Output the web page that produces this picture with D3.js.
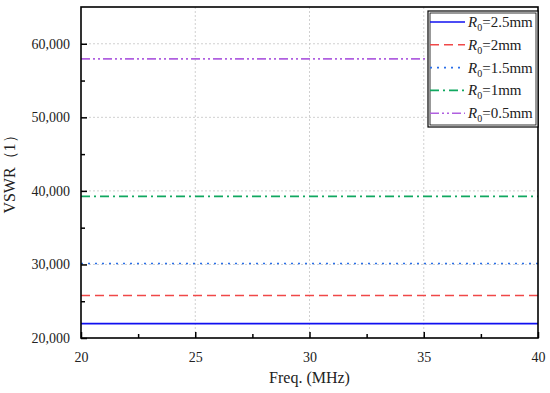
<!DOCTYPE html>
<html>
<head>
<meta charset="utf-8">
<script src="https://d3js.org/d3.v7.min.js"></script>
<style>
	body { margin: 0; background: #fff; }
	text { font-family: "Liberation Serif", "Times New Roman", serif; fill: #222; }
</style>
</head>
<body>
<div id="chart"></div>
<script>
(function() {
	var width = 550,
		height = 393;
	var margin = { top: 7, right: 12, bottom: 55, left: 81 };
	var w = width - margin.left - margin.right,
		h = height - margin.top - margin.bottom;

	// frequency points and VSWR values for each radius
	var freqs = [20, 25, 30, 35, 40];
	var labels = ["2.5mm", "2mm", "1.5mm", "1mm", "0.5mm"];
	var vswr25 = [21950, 21950, 21950, 21950, 21950];
	var vswr2 = [25780, 25780, 25780, 25780, 25780];
	var vswr15 = [30120, 30120, 30120, 30120, 30120];
	var vswr1 = [39250, 39250, 39250, 39250, 39250];
	var vswr05 = [57950, 57950, 57950, 57950, 57950];
	var xTicks = [20, 25, 30, 35, 40];
	var yTicks = [20000, 30000, 40000, 50000, 60000];

	var seriesValues = [vswr25, vswr2, vswr15, vswr1, vswr05];
	var colors = ["#1010f0", "#f04848", "#2b6fe8", "#10a860", "#b060e0"];
	var dashes = [null, "9,5", "2,5", "9,4,2,4", "9,3,2,3,2,3"];

	var svg = d3.select("#chart")
		.append("svg")
		.attr("width", width)
		.attr("height", height)
		.append("g")
		.attr("transform", "translate(" + margin.left + "," + margin.top + ")");

	var x = d3.scaleLinear().domain([20, 40]).range([0, w]);
	var y = d3.scaleLinear().domain([20000, 65000]).range([h, 0]);

	// dotted grid
	svg.selectAll(".gx").data(xTicks.slice(1, -1)).enter().append("line")
		.attr("x1", d => x(d)).attr("x2", d => x(d))
		.attr("y1", 0).attr("y2", h)
		.attr("stroke", "#d0d0d0").attr("stroke-dasharray", "2,2");
	svg.selectAll(".gy").data(yTicks.slice(1)).enter().append("line")
		.attr("y1", d => y(d)).attr("y2", d => y(d))
		.attr("x1", 0).attr("x2", w)
		.attr("stroke", "#d0d0d0").attr("stroke-dasharray", "2,2");

	// the lines
	var line = d3.line()
		.x((d, i) => x(freqs[i]))
		.y(d => y(d));

	seriesValues.forEach(function(vals, i) {
		svg.append("path")
			.datum(vals)
			.attr("d", line)
			.attr("fill", "none")
			.attr("stroke", colors[i])
			.attr("stroke-width", 1.6)
			.attr("stroke-dasharray", dashes[i]);
	});

	// axes, ticks pointing inward
	svg.append("g")
		.attr("transform", "translate(0," + h + ")")
		.call(d3.axisBottom(x).tickValues(xTicks).tickSize(-6).tickPadding(14).tickFormat(d3.format("d")));
	svg.append("g")
		.attr("transform", "translate(0," + h + ")")
		.call(d3.axisBottom(x).tickValues([22.5, 27.5, 32.5, 37.5]).tickSize(-4).tickFormat(""));

	svg.append("g")
		.call(d3.axisLeft(y).tickValues(yTicks).tickSize(-6).tickPadding(11).tickFormat(d3.format(",")));
	svg.append("g")
		.call(d3.axisLeft(y).tickValues([25000, 35000, 45000, 55000]).tickSize(-4).tickFormat(""));

	svg.selectAll(".domain").remove();
	svg.selectAll(".tick line").attr("stroke", "#000").attr("stroke-width", 1.5);
	svg.selectAll(".tick text").style("font-size", "14px").style("font-family", "Liberation Serif").attr("fill", "#222");

	// frame
	svg.append("rect")
		.attr("width", w).attr("height", h)
		.attr("fill", "none").attr("stroke", "#000").attr("stroke-width", 1.6);

	// axis titles
	svg.append("text")
		.attr("x", w / 2).attr("y", h + 45)
		.attr("text-anchor", "middle")
		.style("font-size", "16px")
		.text("Freq. (MHz)");
	svg.append("text")
		.attr("transform", "translate(" + (-66) + "," + (h / 2 - 2) + ") rotate(-90)")
		.attr("text-anchor", "middle")
		.style("font-size", "16px")
		.text("VSWR\uFF081\uFF09");

	// legend
	var lg = svg.append("g").attr("transform", "translate(" + (w - 110) + ",4)");
	lg.append("rect")
		.attr("width", 110).attr("height", 116)
		.attr("fill", "#fff").attr("stroke", "#000").attr("stroke-width", 1.2);
	lg.append("rect")
		.attr("x", 2).attr("y", 2).attr("width", 106).attr("height", 112)
		.attr("fill", "none").attr("stroke", "#000").attr("stroke-width", 0.8);

	labels.forEach(function(lab, i) {
		var row = lg.append("g").attr("transform", "translate(0," + (11 + i * 22.8) + ")");
		row.append("line")
			.attr("x1", 2).attr("x2", 37)
			.attr("stroke", colors[i]).attr("stroke-width", 1.6)
			.attr("stroke-dasharray", dashes[i]);
		var t = row.append("text").attr("x", 40).attr("y", 5).style("font-size", "15px");
		t.append("tspan").style("font-style", "italic").text("R");
		t.append("tspan").attr("dy", 4).style("font-size", "10px").text("0");
		t.append("tspan").attr("dy", -4).text("=" + lab);
	});
})();
</script>
</body>
</html>
